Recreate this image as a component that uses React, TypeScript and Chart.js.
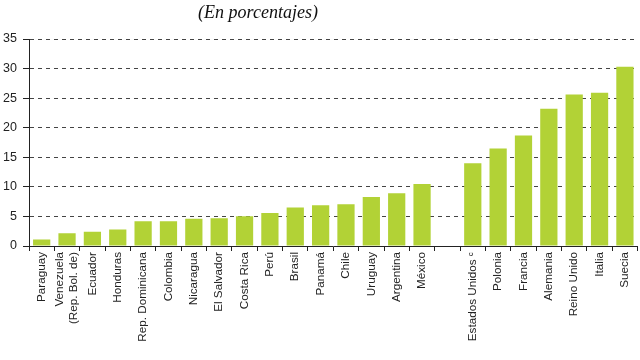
import React, { useEffect, useRef } from "react";
import { Chart, registerables } from "chart.js";

Chart.register(...registerables);

const categories: (string | string[])[] = [
  "Paraguay",
  ["Venezuela", "(Rep. Bol. de)"],
  "Ecuador",
  "Honduras",
  "Rep. Dominicana",
  "Colombia",
  "Nicaragua",
  "El Salvador",
  "Costa Rica",
  "Perú",
  "Brasil",
  "Panamá",
  "Chile",
  "Uruguay",
  "Argentina",
  "México",
  "",
  "Estados Unidos \u1D9C",
  "Polonia",
  "Francia",
  "Alemania",
  "Reino Unido",
  "Italia",
  "Suecia",
];

const values: (number | null)[] = [
  1.1, 2.15, 2.4, 2.8, 4.2, 4.2, 4.6, 4.7, 5.05, 5.6, 6.5, 6.9, 7.05, 8.3, 8.9, 10.5,
  null,
  14.0, 16.5, 18.7, 23.2, 25.6, 25.9, 30.3,
];

const yTicks = [0, 5, 10, 15, 20, 25, 30, 35];
const titleText = "(En porcentajes)";

export default function App() {
  const ref = useRef<HTMLCanvasElement | null>(null);

  useEffect(() => {
    document.body.style.margin = "0";
    const canvas = ref.current;
    if (!canvas) return;

    const titlePlugin = {
      id: "customTitle",
      afterDraw(chart: any) {
        const ctx = chart.ctx;
        ctx.save();
        ctx.font = "italic 18px 'Liberation Serif', 'Times New Roman', serif";
        ctx.fillStyle = "#111";
        ctx.textAlign = "center";
        ctx.textBaseline = "middle";
        ctx.fillText(titleText, 258, 13);
        ctx.restore();
      },
    };

    // center multi-line rotated labels on their category
    const centerLabels = {
      id: "centerLabels",
      beforeDraw(chart: any) {
        const scale = chart.scales.x;
        const items = scale.getLabelItems(chart.chartArea);
        items.forEach((it: any) => {
          if (Array.isArray(it.label) && it.label.length > 1 && !it._centered) {
            const lh = it.font.lineHeight;
            it.options.translation[0] -= ((it.label.length - 1) * lh) / 2;
            it._centered = true;
          }
        });
      },
    };

    const chart = new Chart(canvas, {
      type: "bar",
      data: {
        labels: categories,
        datasets: [
          {
            data: values,
            backgroundColor: "#b2d236",
            borderWidth: 0,
            barPercentage: 0.68,
            categoryPercentage: 1,
          },
        ],
      },
      plugins: [titlePlugin, centerLabels],
      options: {
        responsive: false,
        animation: false,
        devicePixelRatio: 1,
        layout: { padding: { top: 39, right: 2, left: 0, bottom: 0 } },
        plugins: {
          legend: { display: false },
          tooltip: { enabled: false },
          title: { display: false },
        },
        scales: {
          x: {
            offset: true,
            afterFit(scale: any) {
              scale.height = 114;
            },
            grid: {
              offset: true,
              drawOnChartArea: false,
              drawTicks: true,
              tickLength: 5,
              tickColor: "#222",
            },
            border: { display: true, color: "#222", width: 1 },
            ticks: {
              autoSkip: false,
              maxRotation: 90,
              minRotation: 90,
              padding: 1,
              color: "#222",
              font: { family: "'Liberation Sans', Arial, sans-serif", size: 11.7 },
            },
          },
          y: {
            min: 0,
            max: 35,
            afterFit(scale: any) {
              scale.width = 29;
            },
            afterBuildTicks(scale: any) {
              scale.ticks = yTicks.map((v) => ({ value: v }));
            },
            grid: {
              color: (ctx: any) => (ctx.tick && ctx.tick.value === 0 ? "rgba(0,0,0,0)" : "#444"),
              lineWidth: 1,
              drawTicks: true,
              tickLength: 6,
              tickColor: "#222",
            },
            border: { display: true, color: "#222", width: 1, dash: [4, 4] },
            ticks: {
              padding: 6,
              color: "#222",
              font: { family: "'Liberation Sans', Arial, sans-serif", size: 12.5 },
            },
          },
        },
      },
    });

    return () => chart.destroy();
  }, []);

  return (
    <div style={{ position: "absolute", left: 0, top: 0, width: 640, height: 360, background: "#fff" }}>
      <canvas ref={ref} width={640} height={360} style={{ width: 640, height: 360 }} />
    </div>
  );
}
